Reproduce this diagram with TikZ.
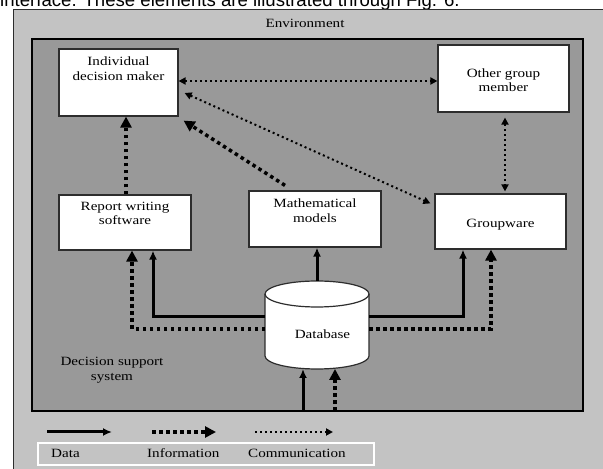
\documentclass[tikz,border=0pt]{standalone}
\usepackage{fontspec}
\setmainfont{Liberation Serif}[FakeStretch=1.2]
\newfontfamily\pagefont{Liberation Sans}
\usetikzlibrary{arrows.meta}
\definecolor{envgray}{RGB}{195,195,195}
\definecolor{dssgray}{RGB}{153,153,153}
\definecolor{inkgray}{RGB}{45,45,45}
\tikzset{
  box/.style={draw=inkgray,line width=1.2pt,fill=white,inner sep=0pt},
  toptext/.style={anchor=north,inner sep=0pt,align=center},
  data/.style={line width=3pt,-{Latex[length=9pt,width=8pt]}},
  info/.style={line width=3.5pt,dash pattern=on 3.5pt off 3.5pt,-{Triangle[length=11pt,width=11pt]}},
  comm/.style={line width=2pt,dash pattern=on 2pt off 3pt,>={Triangle[length=7pt,width=7pt]},->},
}
\begin{document}
\begin{tikzpicture}[x=1pt,y=1pt,font=\fontsize{12.6}{14.5}\selectfont]
\useasboundingbox (0,0) rectangle (603,469);
% text of the page above the figure
\node[anchor=base west,inner sep=0pt,font=\pagefont\fontsize{18.6}{20}\selectfont] (pagetext) at (0,462) {interface. These elements are illustrated through Fig. 6.};
% frames
\draw[draw=inkgray,fill=envgray,line width=1pt] (13,459) rectangle (615,-10);
\node[anchor=base] (envtext) at (305,441) {Environment};
\draw[fill=dssgray,line width=1.2pt] (32,430) rectangle (583,58);
\node[toptext] (dsstext) at (112,111.6) {Decision support\\system};
% boxes
\node[box,minimum width=119pt,minimum height=67pt,label={[toptext,yshift=-8.4pt]north:{Individual\\decision maker}}] (idm) at (118.5,386.5) {};
\node[box,minimum width=131pt,minimum height=67pt,label={[toptext,yshift=-24pt]north:{Other group\\member}}] (ogm) at (503.5,390.5) {};
\node[box,minimum width=132pt,minimum height=55pt,label={[toptext,yshift=-7.4pt]north:{Report writing\\software}}] (rws) at (125,246.5) {};
\node[box,minimum width=132pt,minimum height=56pt,label={[toptext,yshift=-8.4pt]north:{Mathematical\\models}}] (mm) at (315,250) {};
\node[box,minimum width=131pt,minimum height=55pt,label={[toptext,yshift=-25.5pt]north:{Groupware}}] (gw) at (500.5,247.5) {};
% database
\draw[fill=white,draw=inkgray,line width=1.2pt] (265,175) -- (265,113) arc[start angle=180,end angle=360,x radius=52pt,y radius=13pt] -- (369,175) arc[start angle=0,end angle=180,x radius=52pt,y radius=13pt] -- cycle;
\draw[draw=inkgray,line width=1.2pt] (265,175) arc[start angle=180,end angle=360,x radius=52pt,y radius=13pt];
\node[anchor=base] (db) at (322.5,130) {Database};
\coordinate (dbtop) at (317,188);
\coordinate (dbbot) at (317,100);
\coordinate (dbl) at (265,152);
\coordinate (dbl2) at (265,140);
\coordinate (dbr) at (369,152);
\coordinate (dbr2) at (369,140);
\coordinate (inb1) at (303,58);
\coordinate (inb2) at (335,58);
% connectors
\draw[data] (dbtop) -- (dbtop |- mm.south);
\draw[data] (dbl) -| ([xshift=28pt]rws.south);
\draw[info] (dbl2) -| ([xshift=7pt]rws.south);
\draw[data] (dbr) -| ([xshift=-37.5pt]gw.south);
\draw[info] (dbr2) -| ([xshift=-9.5pt]gw.south);
\draw[data] (inb1) -- (inb1 |- dbbot);
\draw[info] (inb2) -- (inb2 |- dbbot);
\draw[info] ([xshift=1pt]rws.north) -- ([xshift=1pt]rws.north |- idm.south);
\draw[info] ([shift={(-30pt,5pt)}]mm.north) -- ([shift={(5pt,-4pt)}]idm.south east);
\draw[comm,<->] ([yshift=1.5pt]idm.east) -- ([yshift=1.5pt]idm.east -| ogm.west);
\draw[comm,<->] ([shift={(6pt,-10.5pt)}]idm.east) -- ([shift={(-4pt,-10pt)}]gw.north west);
\draw[comm,<->,shorten <=5pt,shorten >=2pt] ([xshift=1.5pt]ogm.south) -- ([xshift=1.5pt]ogm.south |- gw.north);
% legend
\coordinate (ld1) at (47,37);
\coordinate (ld2) at (112,37);
\coordinate (li1) at (152,37);
\coordinate (li2) at (216,37);
\coordinate (lc1) at (255,37);
\coordinate (lc2) at (333,37);
\draw[data] (ld1) -- (ld2);
\draw[info] (li1) -- (li2);
\draw[comm] (lc1) -- (lc2);
\draw[white,line width=1.5pt] (38,26) rectangle (374,4);
\node[anchor=base west,inner sep=0pt] (ldtext) at (51,11) {Data};
\node[anchor=base west,inner sep=0pt] (litext) at (147,11) {Information};
\node[anchor=base west,inner sep=0pt] (lctext) at (248,11) {Communication};
\end{tikzpicture}
\end{document}
